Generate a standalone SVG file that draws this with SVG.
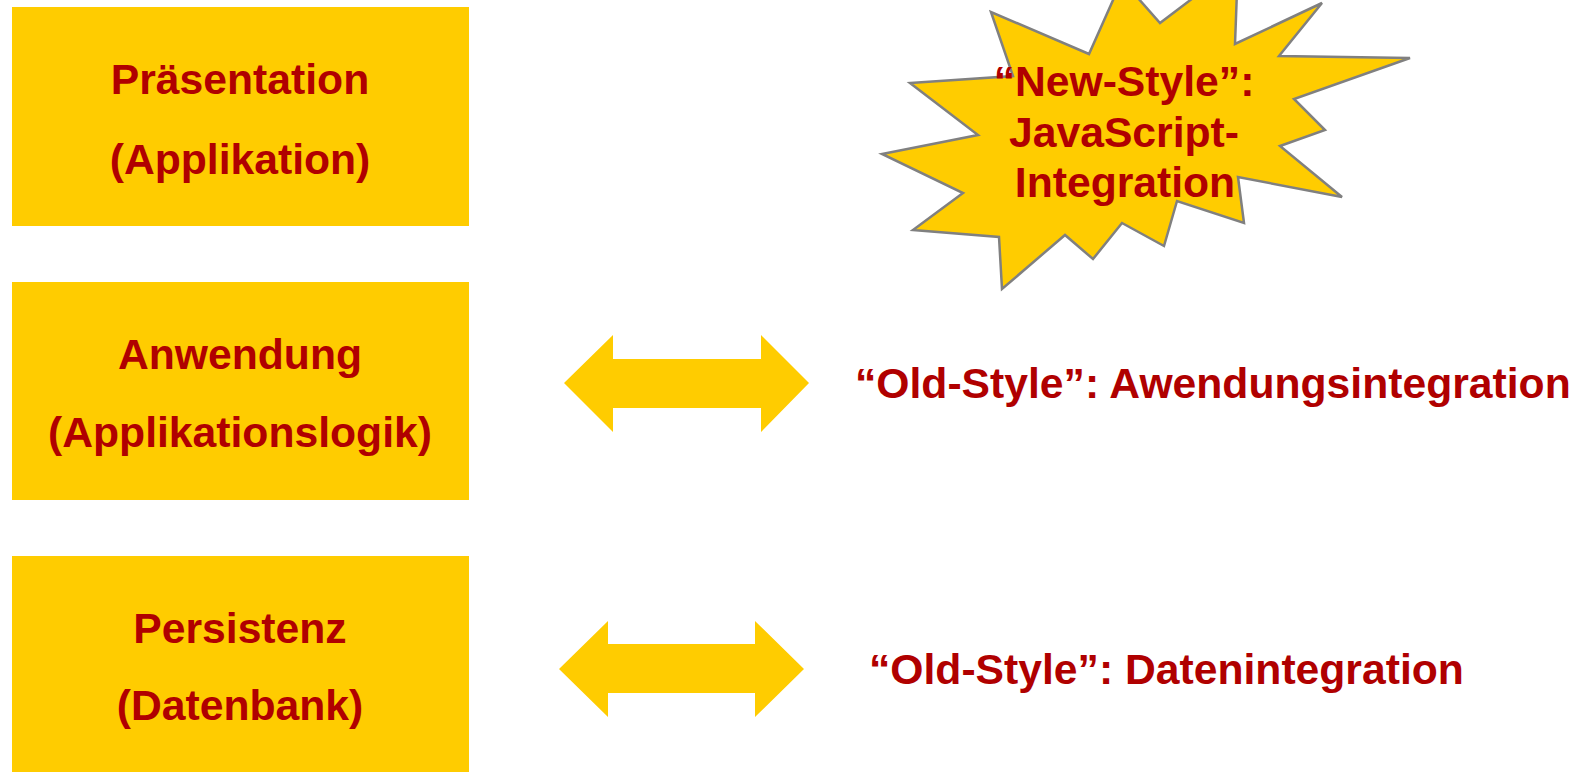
<svg xmlns="http://www.w3.org/2000/svg" width="1586" height="772" viewBox="0 0 1586 772">
<style>
.box{fill:#FFCC00}
.arrow{fill:#FFCC00}
.t{font-family:"Liberation Sans",Arial,sans-serif;font-weight:bold;font-size:42.67px;fill:#B00000}
.c{text-anchor:middle}
.star{fill:#FFCC00;stroke:#808080;stroke-width:2.5;stroke-linejoin:miter}
</style>
<rect width="1586" height="772" fill="#FFFFFF"/>
<g id="praesentation">
<rect class="box" x="12" y="7" width="457" height="219"/>
<text class="t c" x="240" y="94">Präsentation</text>
<text class="t c" x="240" y="174">(Applikation)</text>
</g>
<g id="anwendung">
<rect class="box" x="12" y="282" width="457" height="218"/>
<text class="t c" x="240" y="369">Anwendung</text>
<text class="t c" x="240" y="447">(Applikationslogik)</text>
</g>
<g id="persistenz">
<rect class="box" x="12" y="556" width="457" height="220"/>
<text class="t c" x="240" y="643">Persistenz</text>
<text class="t c" x="240" y="720">(Datenbank)</text>
</g>
<g id="connectors">
<polygon class="arrow" points="564,383 613,335 613,359 761,359 761,335 809,383 761,432 761,408 613,408 613,432"/>
<polygon class="arrow" points="559,669 608,621 608,644 755,644 755,621 804,669 755,717 755,693 608,693 608,717"/>
</g>
<g id="new-style">
<polygon class="star" points="991,12 1013,76 910,83 978,135 882,154 963,193 913,230 999,237 1002,289 1065,235 1093,259 1122,223 1164,246 1177,201 1244,223 1238,177 1342,197 1280,146 1325,130 1294,99 1410,58 1279,56 1322,3 1235,44 1238,-36 1160,23 1122,-20 1089,54"/>
<text class="t c" x="1124" y="96">“New-Style”:</text>
<text class="t c" x="1124" y="147">JavaScript-</text>
<text class="t c" x="1125" y="197">Integration</text>
</g>
<g id="old-style-anwendung">
<text class="t" x="855" y="398">“Old-Style”: Awendungsintegration</text>
</g>
<g id="old-style-daten">
<text class="t" x="869" y="684">“Old-Style”: Datenintegration</text>
</g>
</svg>
